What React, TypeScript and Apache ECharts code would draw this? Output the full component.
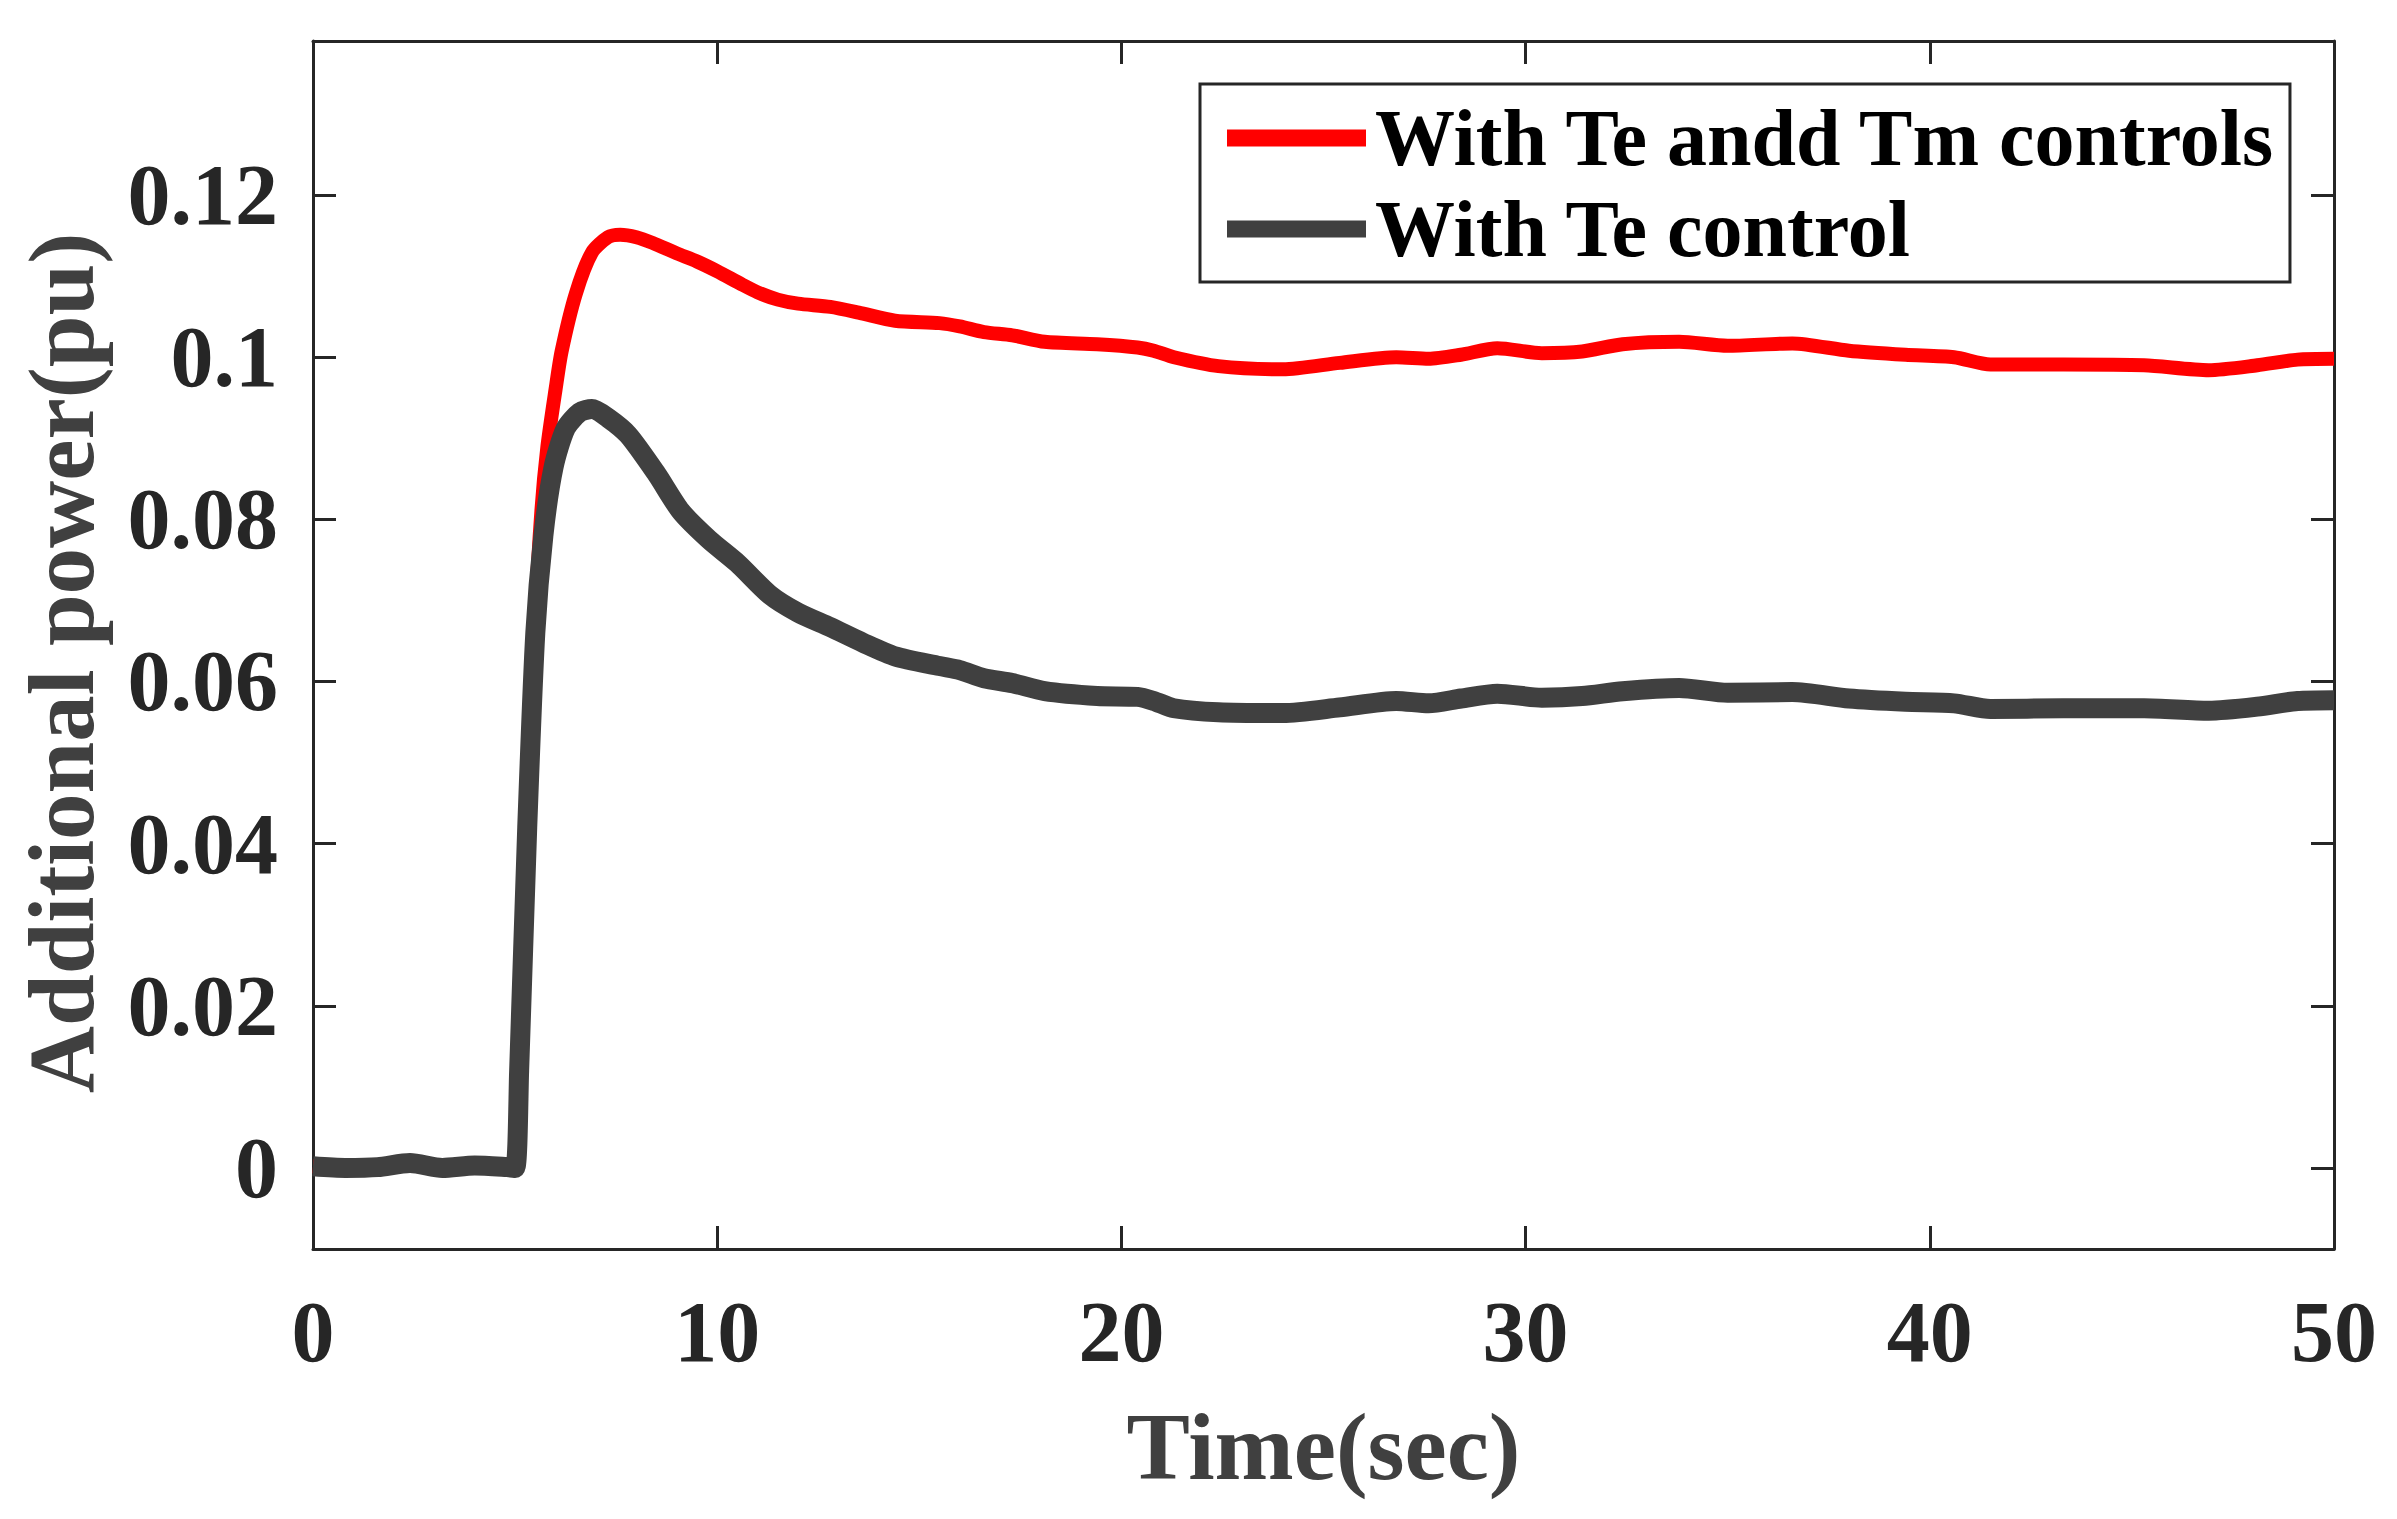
import React, { useEffect, useRef } from "react";
import * as echarts from "echarts";

const seriesNames = ["With Te andd Tm controls", "With Te control"];
const seriesColors = ["#ff0000", "#404040"];

const preStep: [number, number][] = [
  [0, 0.0002], [0.8, 0], [1.6, 0.0001], [2.4, 0.0006], [3.2, 0], [4.0, 0.0003], [4.8, 0.0001], [5.0, 0],
];

const redData: [number, number][] = [
  ...preStep,
  [5.1, 0.012], [5.3, 0.042], [5.5, 0.068], [5.65, 0.081], [5.8, 0.089], [6.0, 0.096], [6.15, 0.1007],
  [6.5, 0.1078], [6.9, 0.1129], [7.3, 0.1148], [7.6, 0.1151], [8.0, 0.1148], [8.4, 0.1141], [9.0, 0.1128],
  [9.5, 0.1118], [10.0, 0.1106], [10.6, 0.109], [11.0, 0.108], [11.5, 0.1071], [12.0, 0.1066], [12.8, 0.1062],
  [13.5, 0.1055], [14.4, 0.1045], [15.5, 0.1042], [16.0, 0.1038], [16.6, 0.1031], [17.3, 0.1027], [18.1, 0.1019],
  [19.4, 0.1016], [20.4, 0.1012], [20.8, 0.1008], [21.3, 0.1], [22.4, 0.0989], [24.0, 0.0985], [25.4, 0.0993],
  [26.8, 0.1], [27.6, 0.0998], [28.4, 0.1003], [29.3, 0.1011], [30.4, 0.1005], [31.4, 0.1007], [32.4, 0.1016],
  [33.8, 0.1019], [35.0, 0.1014], [36.6, 0.1017], [38.0, 0.1008], [39.4, 0.1003], [40.6, 0.1], [41.5, 0.0991],
  [43.3, 0.0991], [45.3, 0.099], [46.9, 0.0984], [48.1, 0.099], [49.1, 0.0997], [50, 0.0998],
];

const grayData: [number, number][] = [
  ...preStep,
  [5.1, 0.012], [5.3, 0.042], [5.5, 0.066], [5.7, 0.078], [5.95, 0.0864], [6.25, 0.0912], [6.6, 0.0932],
  [6.9, 0.0936], [7.3, 0.0925], [7.8, 0.0904], [8.5, 0.0856], [9.1, 0.081], [9.8, 0.0775], [10.5, 0.0746],
  [11.3, 0.0707], [12.0, 0.0685], [12.8, 0.0667], [13.6, 0.0648], [14.4, 0.0631], [15.5, 0.0619], [16.0, 0.0614],
  [16.6, 0.0604], [17.3, 0.0598], [18.1, 0.0588], [19.4, 0.0582], [20.4, 0.0581], [20.8, 0.0576], [21.3, 0.0567],
  [22.4, 0.0562], [24.0, 0.0561], [25.4, 0.0568], [26.8, 0.0576], [27.6, 0.0573], [28.4, 0.0579], [29.3, 0.0585],
  [30.4, 0.058], [31.4, 0.0582], [32.4, 0.0588], [33.8, 0.0592], [35.0, 0.0586], [36.6, 0.0587], [38.0, 0.0579],
  [39.4, 0.0575], [40.6, 0.0573], [41.5, 0.0566], [43.3, 0.0567], [45.3, 0.0567], [46.9, 0.0564], [48.1, 0.0569],
  [49.1, 0.0576], [50, 0.0577],
];

const yTicks = [0, 0.02, 0.04, 0.06, 0.08, 0.1, 0.12];
const xTicks = [0, 10, 20, 30, 40, 50];

const FONT = "'Liberation Serif', 'Times New Roman', serif";
const AXIS_COLOR = "#262626";

export default function App() {
  const ref = useRef<HTMLDivElement>(null);
  useEffect(() => {
    if (!ref.current) return;
    const chart = echarts.init(ref.current, null, { renderer: "svg" });
    const tickStyle = { show: true, inside: true, length: 23, lineStyle: { color: AXIS_COLOR, width: 3 } };
    const lineStyle = { show: true, onZero: false, lineStyle: { color: AXIS_COLOR, width: 3 } };
    chart.setOption({
      animation: false,
      backgroundColor: "#ffffff",
      grid: { left: 313, right: 63, top: 41, bottom: 270, containLabel: false },
      legend: {
        orient: "vertical",
        left: 1200,
        top: 84,
        padding: [12, 14, 11, 27],
        itemGap: 7,
        itemWidth: 139,
        itemHeight: 17,
        icon: "rect",
        borderColor: AXIS_COLOR,
        borderWidth: 3,
        backgroundColor: "#ffffff",
        data: seriesNames,
        textStyle: {
          fontFamily: FONT,
          fontWeight: "bold",
          fontSize: 80,
          lineHeight: 84,
          color: "#000000",
          padding: [0, 0, 0, 4],
        },
      },
      xAxis: [
        {
          type: "value",
          min: 0,
          max: 50,
          interval: 10,
          position: "bottom",
          name: "Time(sec)",
          nameLocation: "middle",
          nameGap: 150,
          nameTextStyle: { fontFamily: FONT, fontWeight: "bold", fontSize: 95, color: "#404040" },
          axisLine: lineStyle,
          axisTick: tickStyle,
          splitLine: { show: false },
          axisLabel: {
            show: true,
            margin: 40,
            fontFamily: FONT,
            fontWeight: "bold",
            fontSize: 86,
            color: AXIS_COLOR,
            formatter: (v: number) => (xTicks.includes(v) ? String(v) : ""),
          },
        },
        {
          type: "value",
          min: 0,
          max: 50,
          interval: 10,
          position: "top",
          axisLine: lineStyle,
          axisTick: tickStyle,
          axisLabel: { show: false },
          splitLine: { show: false },
        },
      ],
      yAxis: [
        {
          type: "value",
          min: -0.01,
          max: 0.139,
          position: "left",
          name: "Additional power(pu)",
          nameLocation: "middle",
          nameGap: 205,
          nameTextStyle: {
            fontFamily: FONT,
            fontWeight: "bold",
            fontSize: 93,
            color: "#404040",
            padding: [0, 36, 0, 0],
          },
          axisLine: lineStyle,
          axisTick: { ...tickStyle, customValues: yTicks },
          splitLine: { show: false },
          axisLabel: {
            show: true,
            margin: 35,
            customValues: yTicks,
            fontFamily: FONT,
            fontWeight: "bold",
            fontSize: 86,
            color: AXIS_COLOR,
            formatter: (v: number) => String(parseFloat(Number(v).toFixed(3))),
          },
        },
        {
          type: "value",
          min: -0.01,
          max: 0.139,
          position: "right",
          axisLine: lineStyle,
          axisTick: { ...tickStyle, customValues: yTicks },
          axisLabel: { show: false },
          splitLine: { show: false },
        },
      ],
      series: [
        {
          name: seriesNames[0],
          type: "line",
          data: redData,
          showSymbol: false,
          smooth: 0.25,
          color: seriesColors[0],
          lineStyle: { color: seriesColors[0], width: 14, join: "round", cap: "butt" },
          z: 2,
        },
        {
          name: seriesNames[1],
          type: "line",
          data: grayData,
          showSymbol: false,
          smooth: 0.25,
          color: seriesColors[1],
          lineStyle: { color: seriesColors[1], width: 20, join: "round", cap: "butt" },
          z: 3,
        },
      ],
    });
    return () => chart.dispose();
  }, []);
  return (
    <div
      ref={ref}
      style={{ position: "absolute", left: 0, top: 0, width: 2397, height: 1519, background: "#fff" }}
    />
  );
}
